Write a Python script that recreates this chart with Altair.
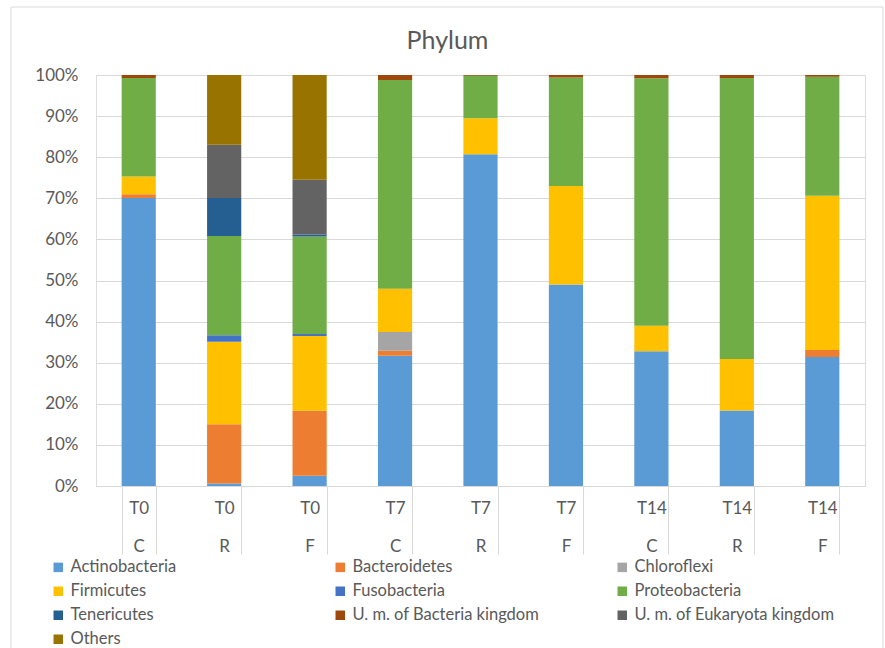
import altair as alt
import pandas as pd

# Sampling time and treatment for each bar
times = ["T0", "T0", "T0", "T7", "T7", "T7", "T14", "T14", "T14"]
treatments = ["C", "R", "F", "C", "R", "F", "C", "R", "F"]

# Phyla, bottom of the stack first
phyla = [
    "Actinobacteria", "Bacteroidetes", "Chloroflexi", "Firmicutes",
    "Fusobacteria", "Proteobacteria", "Tenericutes",
    "U. m. of Bacteria kingdom", "U. m. of Eukaryota kingdom", "Others",
]
colors = [
    "#5B9BD5", "#ED7D31", "#A5A5A5", "#FFC000", "#4472C4",
    "#70AD47", "#255E91", "#9E480E", "#636363", "#997300",
]

# Relative abundance (%) of each phylum per sample
actinobacteria = [70.1, 0.6, 2.5, 31.7, 80.7, 49.0, 32.8, 18.4, 31.4]
bacteroidetes = [0.9, 14.4, 15.8, 1.2, 0.0, 0.0, 0.0, 0.0, 1.7]
chloroflexi = [0.0, 0.0, 0.0, 4.6, 0.0, 0.0, 0.0, 0.0, 0.0]
firmicutes = [4.3, 20.1, 18.2, 10.5, 8.8, 24.0, 6.2, 12.5, 37.5]
fusobacteria = [0.0, 1.6, 0.5, 0.0, 0.0, 0.0, 0.0, 0.0, 0.0]
proteobacteria = [24.0, 24.1, 23.7, 50.8, 10.3, 26.4, 60.2, 68.4, 29.0]
tenericutes = [0.0, 9.3, 0.5, 0.0, 0.0, 0.0, 0.0, 0.0, 0.0]
um_bacteria = [0.7, 0.0, 0.0, 1.2, 0.2, 0.6, 0.8, 0.7, 0.4]
um_eukaryota = [0.0, 12.9, 13.3, 0.0, 0.0, 0.0, 0.0, 0.0, 0.0]
others = [0.0, 17.0, 25.5, 0.0, 0.0, 0.0, 0.0, 0.0, 0.0]

series = [
    actinobacteria, bacteroidetes, chloroflexi, firmicutes, fusobacteria,
    proteobacteria, tenericutes, um_bacteria, um_eukaryota, others,
]

samples = [f"{t}|{c}" for t, c in zip(times, treatments)]

rows = []
for k, (name, vals) in enumerate(zip(phyla, series)):
    for s, v in zip(samples, vals):
        if v > 0:
            rows.append({"sample": s, "phylum": name, "value": v, "order": k})
df = pd.DataFrame(rows)

FONT = "Lato, 'Open Sans', sans-serif"
TEXT = "#595959"
GRID = "#d9d9d9"

W, H = 769, 411

bars = alt.Chart(df).mark_bar().encode(
    x=alt.X(
        "sample:N",
        sort=samples,
        scale=alt.Scale(paddingInner=0.6, paddingOuter=0.3),
        axis=alt.Axis(
            title=None,
            labelAngle=0,
            labelExpr="split(datum.label, '|')",
            labelLineHeight=38,
            labelBaseline="top",
            labelPadding=-54,
            tickBand="extent",
            tickSize=68,
            tickColor=GRID,
            domainColor=GRID,
            labelFont=FONT,
            labelFontSize=17,
            labelColor=TEXT,
            grid=False,
        ),
    ),
    y=alt.Y(
        "value:Q",
        stack="normalize",
        scale=alt.Scale(domain=[0, 1]),
        axis=alt.Axis(
            title=None,
            format=".0%",
            values=[i / 10 for i in range(11)],
            ticks=False,
            tickSize=0,
            domain=False,
            labelPadding=18,
            labelFont=FONT,
            labelFontSize=17,
            labelColor=TEXT,
            gridColor=GRID,
        ),
    ),
    color=alt.Color(
        "phylum:N",
        scale=alt.Scale(domain=phyla, range=colors),
        legend=alt.Legend(
            title=None,
            orient="none",
            legendX=-46,
            legendY=484,
            direction="horizontal",
            columns=3,
            gridAlign="all",
            columnPadding=61,
            rowPadding=7,
            symbolType="square",
            symbolSize=90,
            symbolStrokeWidth=0,
            symbolOffset=0,
            labelOffset=4,
            labelFont=FONT,
            labelFontSize=16.5,
            labelColor=TEXT,
            labelLimit=400,
        ),
    ),
    order=alt.Order("order:Q", sort="ascending"),
)

# Light frame around the whole chart area
frame = alt.Chart(pd.DataFrame({"f": [0]})).mark_rect(
    fill=None, stroke=GRID, strokeWidth=1
).encode(
    x=alt.value(-85), x2=alt.value(787),
    y=alt.value(-68), y2=alt.value(590),
)

chart = alt.layer(frame, bars).properties(
    width=W,
    height=H,
    padding={"left": 96, "top": 75, "right": 20, "bottom": 162},
    autosize=alt.AutoSizeParams(type="none"),
    title=alt.Title(
        "Phylum",
        font=FONT,
        fontSize=25,
        fontWeight="normal",
        color=TEXT,
        anchor="middle",
        baseline="alphabetic",
        offset=-67,
        dx=-33,
    ),
).configure_view(stroke=None).configure(background="white")

chart.save("out.html", embed_options={"renderer": "svg", "actions": False})
